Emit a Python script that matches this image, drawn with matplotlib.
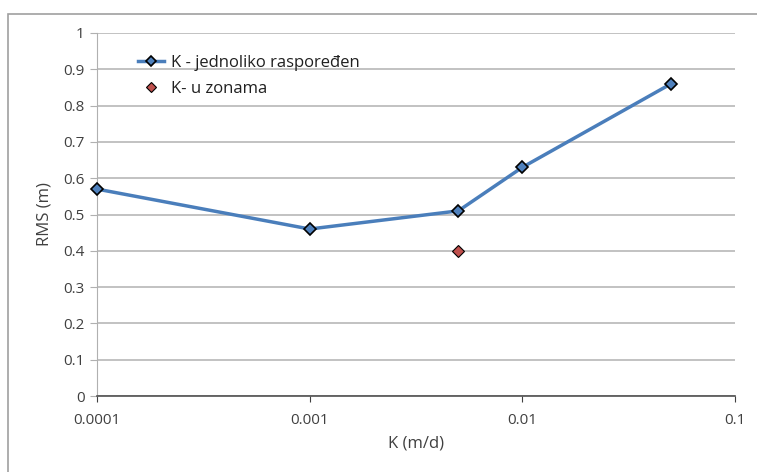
import matplotlib
matplotlib.use("Agg")
import matplotlib.pyplot as plt
from matplotlib.patches import Rectangle

plt.rcParams['font.family'] = ['Open Sans', 'DejaVu Sans']

k_uniform = [0.0001, 0.001, 0.005, 0.01, 0.05]
rms_uniform = [0.57, 0.46, 0.51, 0.63, 0.86]
k_zones = [0.005]
rms_zones = [0.40]
x_ticks = [0.0001, 0.001, 0.01, 0.1]
x_tick_labels = ["0.0001", "0.001", "0.01", "0.1"]
y_ticks = [0, 0.1, 0.2, 0.3, 0.4, 0.5, 0.6, 0.7, 0.8, 0.9, 1]
y_tick_labels = ["0", "0.1", "0.2", "0.3", "0.4", "0.5", "0.6", "0.7", "0.8", "0.9", "1"]

fig = plt.figure(figsize=(7.57, 4.72), dpi=100)
fig.patches.append(Rectangle((8/757, -0.05), 1.2, (472-14)/472 + 0.05,
                             transform=fig.transFigure, fill=False,
                             edgecolor='#a0a0a0', linewidth=1.2))
ax = fig.add_axes([97/757, (472-396)/472, (735-97)/757, (396-33)/472])

ax.plot(k_uniform, rms_uniform, color='#4a7ebb', linewidth=2.5, marker='D',
        markersize=6.5, markerfacecolor='#4f81bd', markeredgecolor='black',
        markeredgewidth=1.2, label='K - jednoliko raspoređen', zorder=3,
        clip_on=False)
ax.plot(k_zones, rms_zones, linestyle='none', marker='D', markersize=6.5,
        markerfacecolor='#c0504d', markeredgecolor='black', markeredgewidth=0.8,
        label='K- u zonama', zorder=3, clip_on=False)

ax.set_xscale('log')
ax.set_xlim(0.0001, 0.1)
ax.set_ylim(0, 1)
ax.set_xticks(x_ticks)
ax.set_xticklabels(x_tick_labels)
ax.minorticks_off()
ax.set_yticks(y_ticks)
ax.set_yticklabels(y_tick_labels)
ax.tick_params(axis='both', labelsize=11, colors='#404040')
ax.tick_params(axis='y', length=5, color='#b0b0b0', pad=4)
ax.tick_params(axis='x', length=4, color='#404040', pad=8)
ax.grid(axis='y', color='#b8b8b8', linewidth=1.2)
ax.set_axisbelow(True)
for s in ['top', 'right']:
    ax.spines[s].set_visible(False)
ax.spines['left'].set_color('#b0b0b0')
ax.spines['bottom'].set_color('#505050')
ax.spines['bottom'].set_linewidth(1.2)

ax.set_xlabel('K (m/d)', fontsize=12, color='#404040', labelpad=6)
ax.set_ylabel('RMS (m)', fontsize=12, color='#404040', labelpad=8)

ax.legend(loc='upper left', bbox_to_anchor=(0.04, 0.98), frameon=False,
          fontsize=12, labelcolor='#202020', handlelength=1.6,
          handletextpad=0.4, labelspacing=0.6, markerscale=0.85)

fig.savefig('out.png', dpi=100)
